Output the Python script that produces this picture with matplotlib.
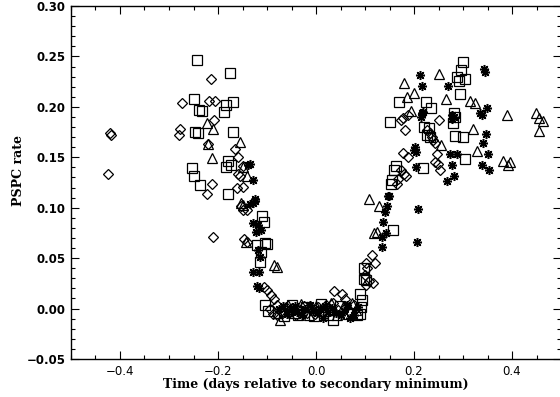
import matplotlib
matplotlib.use("Agg")
import matplotlib.pyplot as plt
from matplotlib.ticker import MultipleLocator

# diamonds
dia_x = [-0.420, -0.418, -0.425,
         -0.215, -0.274, -0.218, -0.206, -0.208, -0.278, -0.280, -0.221, -0.165,
         -0.159, -0.150, -0.159, -0.155, -0.213, -0.222, -0.162, -0.150, -0.154,
         -0.148, -0.140, -0.211, -0.147, -0.140,
         -0.107, -0.100, -0.092, -0.086, -0.080, -0.094, -0.088, -0.080, -0.070,
         -0.062, -0.055, -0.048, -0.040, -0.033, -0.025, -0.018, -0.010, -0.003,
         0.005, 0.012, 0.020, 0.028, 0.037, 0.035, 0.044, 0.054, 0.059, 0.062,
         0.070, 0.078,
         0.114, 0.120, 0.102, 0.105, 0.100, 0.109, 0.117, 0.103,
         0.173, 0.178, 0.188, 0.182, 0.252, 0.227, 0.233, 0.236, 0.239, 0.243,
         0.178, 0.187, 0.246, 0.243, 0.248, 0.253, 0.173, 0.180, 0.184, 0.168,
         0.165]
dia_y = [0.174, 0.172, 0.133,
         0.228, 0.204, 0.206, 0.206, 0.187, 0.178, 0.172, 0.163, 0.158,
         0.150, 0.141, 0.1335, 0.131, 0.124, 0.114, 0.120, 0.121, 0.102,
         0.098, 0.098, 0.071, 0.069, 0.066,
         0.021, 0.018, 0.0135, 0.009, 0.0035, 0.000, -0.005, -0.006, -0.003,
         0.002, -0.004, 0.001, -0.006, -0.002, 0.003, -0.004, 0.001, -0.005,
         0.002, -0.003, 0.004, -0.002, 0.017, 0.006, -0.001, 0.0145, 0.009, 0.002,
         -0.003, 0.004,
         0.053, 0.045, 0.045, 0.040, 0.033, 0.027, 0.025, 0.023,
         0.187, 0.189, 0.192, 0.177, 0.187, 0.177, 0.1745, 0.170, 0.167, 0.1645,
         0.1545, 0.1505, 0.153, 0.1455, 0.143, 0.1375, 0.1375, 0.1335, 0.1315,
         0.128, 0.124]

# squares
sq_x = [-0.242, -0.176, -0.249, -0.238, -0.233, -0.184, -0.170, -0.187, -0.247,
        -0.240, -0.170, -0.179, -0.174, -0.184, -0.253, -0.250, -0.237, -0.180,
        -0.110, -0.106, -0.104, -0.099, -0.113, -0.120, -0.114,
        -0.104, -0.098, -0.066, -0.050, -0.036, -0.020, -0.005, 0.010, 0.025,
        0.034, 0.048, 0.066, 0.084, 0.090, 0.093, 0.092, 0.090,
        0.098, 0.097, 0.102, 0.157,
        0.301, 0.296, 0.288, 0.292, 0.305, 0.294, 0.170, 0.224, 0.234, 0.152,
        0.282, 0.284, 0.279, 0.221, 0.231, 0.226, 0.233, 0.284, 0.299, 0.304,
        0.163, 0.159, 0.156, 0.154, 0.219]
sq_y = [0.246, 0.234, 0.2075, 0.197, 0.196, 0.202, 0.2045, 0.195, 0.175,
        0.174, 0.175, 0.146, 0.142, 0.140, 0.139, 0.131, 0.123, 0.114,
        0.092, 0.086, 0.065, 0.064, 0.056, 0.063, 0.046,
        0.0035, -0.002, -0.007, 0.004, -0.006, 0.002, -0.007, 0.005, -0.006,
        -0.011, 0.003, -0.005, -0.006, 0.0145, 0.0085, 0.002, -0.005,
        0.040, 0.029, 0.028, 0.078,
        0.244, 0.237, 0.230, 0.226, 0.2275, 0.213, 0.205, 0.205, 0.1985, 0.185,
        0.194, 0.190, 0.184, 0.180, 0.179, 0.172, 0.170, 0.171, 0.170, 0.148,
        0.141, 0.137, 0.1275, 0.124, 0.139]

# triangles
tri_x = [-0.223, -0.210, -0.220, -0.213, -0.156, -0.149, -0.141, -0.153, -0.148,
         -0.143, -0.086, -0.080,
         -0.073, -0.078, -0.058, -0.045, -0.030, -0.014, 0.000, 0.016, 0.030,
         0.042, 0.056, 0.074, 0.082,
         0.124, 0.118, 0.128, 0.109,
         0.180, 0.250, 0.186, 0.199, 0.265, 0.314, 0.324, 0.194, 0.389, 0.449,
         0.456, 0.464, 0.455, 0.320, 0.256, 0.329, 0.382, 0.396, 0.391]
tri_y = [0.184, 0.178, 0.163, 0.149, 0.165, 0.140, 0.131, 0.105, 0.103,
         0.066, 0.043, 0.0415,
         -0.011, -0.004, 0.004, -0.004, 0.005, -0.006, 0.003, -0.002, 0.006,
         -0.006, 0.002, 0.006, -0.001,
         0.076, 0.0747, 0.102, 0.109,
         0.224, 0.233, 0.210, 0.214, 0.2075, 0.206, 0.204, 0.196, 0.192, 0.194,
         0.189, 0.1855, 0.176, 0.178, 0.162, 0.156, 0.1465, 0.1455, 0.142]

# asterisks
ast_x = [-0.138, -0.129, -0.124, -0.135, -0.124, -0.128, -0.135, -0.128, -0.118,
         -0.113, -0.122, -0.118, -0.114, -0.129, -0.116,
         -0.121, -0.116, -0.076, -0.068, -0.060, -0.052, -0.043, -0.038, -0.028,
         -0.022, -0.012, -0.006, 0.003, 0.008, 0.014, 0.018, 0.024, 0.032,
         0.040, 0.050, 0.058, 0.064, 0.069, 0.077, 0.086,
         0.137, 0.143, 0.135, 0.134, 0.144, 0.141, 0.209, 0.207, 0.146, 0.148,
         0.212, 0.217, 0.270, 0.343, 0.345, 0.216, 0.214, 0.219, 0.277, 0.277,
         0.282, 0.335, 0.338, 0.348, 0.347, 0.341, 0.202, 0.204, 0.200, 0.273,
         0.288, 0.352, 0.204, 0.277, 0.338, 0.354, 0.268, 0.282]
ast_y = [0.142, 0.1275, 0.109, 0.143, 0.107, 0.105, 0.104, 0.0845, 0.083,
         0.078, 0.076, 0.058, 0.051, 0.0365, 0.0365,
         0.022, 0.020, 0.000, 0.003, -0.005, 0.000, 0.003, -0.003, -0.006,
         0.000, 0.004, -0.002, -0.004, 0.000, -0.0096, 0.003, -0.003, 0.001,
         -0.004, -0.006, -0.002, 0.004, -0.0096, -0.006, 0.002,
         0.086, 0.075, 0.071, 0.061, 0.102, 0.096, 0.0985, 0.066, 0.112, 0.1115,
         0.232, 0.221, 0.221, 0.2375, 0.235, 0.194, 0.190, 0.195, 0.192, 0.188,
         0.190, 0.1935, 0.192, 0.1985, 0.173, 0.164, 0.1605, 0.1555, 0.157, 0.153,
         0.153, 0.153, 0.1405, 0.1425, 0.1425, 0.137, 0.126, 0.131]

fig = plt.figure(figsize=(5.6, 3.97), dpi=100)
ax = fig.add_axes([71 / 560, 38 / 397, 490 / 560, 353 / 397])

kw = dict(linestyle="none", color="black", markerfacecolor="none")
ax.plot(dia_x, dia_y, marker="D", markersize=5.2, markeredgewidth=0.9, **kw)
ax.plot(sq_x, sq_y, marker="s", markersize=7, markeredgewidth=0.9, **kw)
ax.plot(tri_x, tri_y, marker="^", markersize=6.5, markeredgewidth=0.9, **kw)
ax.plot(ast_x, ast_y, marker=(8, 2, 0), markersize=6.5, markeredgewidth=1.1, **kw)

ax.set_xlim(-0.5, 0.5)
ax.set_ylim(-0.05, 0.30)
ax.xaxis.set_major_locator(MultipleLocator(0.2))
ax.xaxis.set_minor_locator(MultipleLocator(0.05))
ax.yaxis.set_major_locator(MultipleLocator(0.05))
ax.yaxis.set_minor_locator(MultipleLocator(0.01))
ax.set_xticks([-0.4, -0.2, 0.0, 0.2, 0.4])
ax.set_xticklabels(["\u22120.4", "\u22120.2", "0.0", "0.2", "0.4"], fontsize=8.5)
yt = [-0.05, 0.0, 0.05, 0.10, 0.15, 0.20, 0.25, 0.30]
ax.set_yticks(yt)
ax.set_yticklabels(["\u22120.05" if v < 0 else f"{v:.2f}" for v in yt],
                   fontsize=8.5, fontweight="bold")
ax.tick_params(which="both", direction="in", top=True, right=True, width=0.8)
ax.tick_params(which="major", length=6, pad=4)
ax.tick_params(which="minor", length=3)
for s in ax.spines.values():
    s.set_linewidth(1.0)

ax.set_xlabel("Time (days relative to secondary minimum)", family="DejaVu Serif",
              fontweight="bold", fontsize=9, labelpad=0)
ax.set_ylabel("PSPC rate", family="DejaVu Serif", fontweight="bold", fontsize=9)
ax.yaxis.set_label_coords(-0.094, 0.535)

fig.savefig("out.png", dpi=100)
